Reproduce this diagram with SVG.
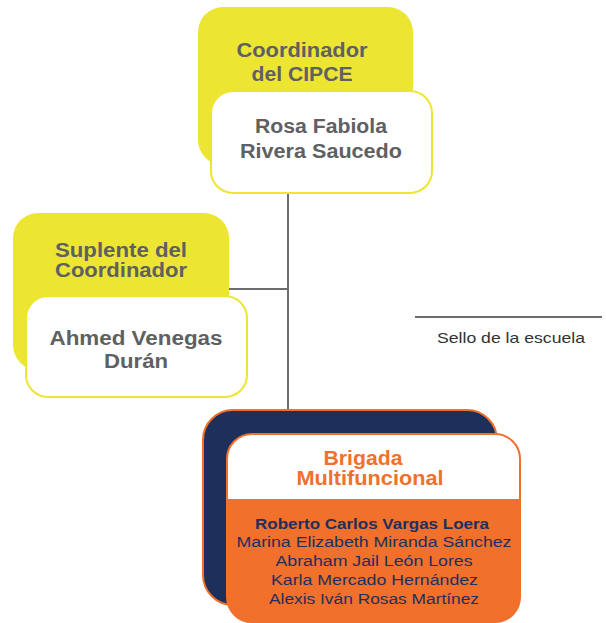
<svg xmlns="http://www.w3.org/2000/svg" width="606" height="623" viewBox="0 0 606 623">
<style>
.yel{fill:#ece633}
.wbox{fill:#ffffff;stroke:#ece633;stroke-width:2}
.t{font-family:"Liberation Sans",Arial,sans-serif;font-weight:bold;font-size:20px;fill:#5e6062;text-anchor:middle}
.o{font-family:"Liberation Sans",Arial,sans-serif;font-weight:bold;font-size:20px;fill:#f0702c;text-anchor:middle}
.n{font-family:"Liberation Sans",Arial,sans-serif;font-size:15.5px;fill:#1f2f5c;text-anchor:middle}
.nb{font-weight:bold}
.s{font-family:"Liberation Sans",Arial,sans-serif;font-size:15px;fill:#333333;text-anchor:middle}
.ln{stroke:#6b6d70;stroke-width:2;fill:none}
</style>
<rect width="606" height="623" fill="#ffffff"/>
<g id="connectors">
<line class="ln" x1="288" y1="193" x2="288" y2="410"/>
<line class="ln" x1="229" y1="289" x2="288" y2="289"/>
</g>
<g id="coordinador">
<rect class="yel" x="198" y="7" width="215" height="158" rx="25"/>
<text class="t" x="302" y="57" textLength="131" lengthAdjust="spacingAndGlyphs">Coordinador</text>
<text class="t" x="302" y="81" textLength="101" lengthAdjust="spacingAndGlyphs">del CIPCE</text>
<rect class="wbox" x="211" y="91" width="221" height="102" rx="22"/>
<text class="t" x="321" y="133" textLength="132" lengthAdjust="spacingAndGlyphs">Rosa Fabiola</text>
<text class="t" x="321" y="158" textLength="162" lengthAdjust="spacingAndGlyphs">Rivera Saucedo</text>
</g>
<g id="suplente">
<rect class="yel" x="13" y="213" width="216" height="157" rx="25"/>
<text class="t" x="121" y="257" textLength="132" lengthAdjust="spacingAndGlyphs">Suplente del</text>
<text class="t" x="121" y="277" textLength="132" lengthAdjust="spacingAndGlyphs">Coordinador</text>
<rect class="wbox" x="26" y="296" width="221" height="101" rx="22"/>
<text class="t" x="136" y="345" textLength="173" lengthAdjust="spacingAndGlyphs">Ahmed Venegas</text>
<text class="t" x="136" y="368" textLength="64" lengthAdjust="spacingAndGlyphs">Durán</text>
</g>
<g id="sello">
<line class="ln" x1="415" y1="317" x2="602" y2="317"/>
<text class="s" x="511" y="343" textLength="148" lengthAdjust="spacingAndGlyphs">Sello de la escuela</text>
</g>
<g id="brigada">
<rect x="203" y="410" width="294" height="195" rx="30" fill="#1d2f5b" stroke="#f0702c" stroke-width="2"/>
<rect x="227" y="434" width="293" height="188" rx="25" fill="#f0702c"/>
<path d="M227,499 V459 A25,25 0 0 1 252,434 H495 A25,25 0 0 1 520,459 V499 Z" fill="#ffffff"/>
<rect x="227" y="434" width="293" height="188" rx="25" fill="none" stroke="#f0702c" stroke-width="2"/>
<text class="o" x="363" y="465" textLength="79" lengthAdjust="spacingAndGlyphs">Brigada</text>
<text class="o" x="370" y="485" textLength="147" lengthAdjust="spacingAndGlyphs">Multifuncional</text>
<text class="n nb" x="372" y="529" textLength="234" lengthAdjust="spacingAndGlyphs">Roberto Carlos Vargas Loera</text>
<text class="n" x="374" y="547" textLength="275" lengthAdjust="spacingAndGlyphs">Marina Elizabeth Miranda Sánchez</text>
<text class="n" x="374" y="566" textLength="197" lengthAdjust="spacingAndGlyphs">Abraham Jail León Lores</text>
<text class="n" x="374.5" y="585" textLength="207" lengthAdjust="spacingAndGlyphs">Karla Mercado Hernández</text>
<text class="n" x="374" y="604" textLength="210" lengthAdjust="spacingAndGlyphs">Alexis Iván Rosas Martínez</text>
</g>
</svg>
